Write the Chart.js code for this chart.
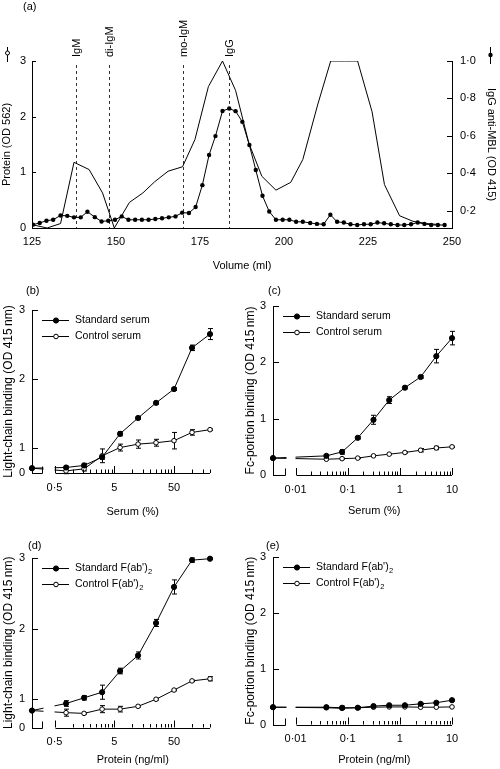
<!DOCTYPE html>
<html>
<head>
<meta charset="utf-8">
<script src="https://cdn.jsdelivr.net/npm/chart.js@4.4.0/dist/chart.umd.min.js"></script>
<style>
  html, body { margin: 0; padding: 0; background: #fff; }
  body { width: 500px; height: 769px; position: relative; overflow: hidden; font-family: "Liberation Sans", Arial, sans-serif; }
  canvas { position: absolute; }
  .tag { position: absolute; font-size: 11px; line-height: 13px; }
</style>
</head>
<body>
<canvas id="chartA" width="500" height="290" style="left:0;top:0"></canvas>
<canvas id="chartB" width="240" height="240" style="left:0;top:290px"></canvas>
<canvas id="chartC" width="260" height="240" style="left:240px;top:290px"></canvas>
<canvas id="chartD" width="240" height="239" style="left:0;top:530px"></canvas>
<canvas id="chartE" width="260" height="239" style="left:240px;top:530px"></canvas>
<div class="tag" style="left:23px;top:0px">(a)</div>
<div class="tag" style="left:26px;top:284px">(b)</div>
<div class="tag" style="left:268px;top:284px">(c)</div>
<div class="tag" style="left:28px;top:539px">(d)</div>
<div class="tag" style="left:266px;top:539px">(e)</div>
<script>
// ---------- data ----------
// (a) gel filtration of serum
const volProtein = [125, 129.5, 133.5, 137.5, 142, 146, 149.5, 154, 158, 161.5, 165.5, 169.8, 173.5, 177.5, 181.7, 185.6,
  189.5, 193.4, 197.6, 202, 205.6, 210, 213.9, 218, 221.9, 226.2, 229.9, 234.4, 238.4, 242.5, 246.5];
const protein = [0.06, 0.0, 0.08, 1.18, 1.05, 0.63, 0.0, 0.46, 0.63, 0.83, 1.02, 1.1, 1.59, 2.54, 3.0, 2.47,
  1.53, 0.93, 0.68, 0.82, 1.23, 2.21, 3.0, 3.0, 3.0, 2.09, 0.78, 0.22, 0.12, 0.08, 0.06];

const volFraction = [125.3, 127.3, 129.3, 131.3, 133.5, 135.5, 137.5, 139.5, 141.5, 143.7, 145.7, 147.7, 149.7, 151.7,
  153.7, 155.7, 157.7, 159.7, 161.7, 163.7, 165.7, 167.7, 169.7, 171.7, 173.7, 175.7, 177.7, 179.6, 181.7, 183.7,
  185.6, 187.6, 189.7, 191.6, 193.6, 195.6, 197.6, 199.6, 201.6, 203.6, 205.6, 207.8, 209.8, 211.8, 213.8, 215.8,
  217.8, 219.8, 221.8, 223.8, 225.8, 227.8, 229.8, 231.8, 233.8, 235.8, 237.8, 239.8, 241.8, 243.8, 245.8, 247.8];
const antiMBL = [0.126, 0.135, 0.147, 0.152, 0.175, 0.173, 0.165, 0.165, 0.195, 0.166, 0.143, 0.147, 0.152, 0.17,
  0.152, 0.152, 0.152, 0.152, 0.156, 0.16, 0.165, 0.17, 0.19, 0.188, 0.22, 0.337, 0.498, 0.599, 0.733, 0.746,
  0.732, 0.675, 0.551, 0.418, 0.28, 0.196, 0.152, 0.152, 0.152, 0.141, 0.141, 0.135, 0.13, 0.128, 0.179, 0.141,
  0.137, 0.128, 0.124, 0.128, 0.128, 0.137, 0.133, 0.128, 0.124, 0.124, 0.128, 0.137, 0.13, 0.124, 0.124, 0.124];

const fractionAt = [138, 147.8, 169.8, 183.5];
const fractionNames = ['IgM', 'di-IgM', 'mo-IgM', 'IgG'];
const volTicks = [125, 150, 175, 200, 225, 250];
const proteinTicks = [0, 1, 2, 3];
const mblTicks = [0.2, 0.4, 0.6, 0.8, 1.0];

// (b)/(c) serum dilutions
const serumPct = [0.78, 1.56, 3.13, 6.25, 12.5, 25, 50, 100, 200];
const lightStd = [0.71, 0.74, 0.86, 1.2, 1.43, 1.65, 1.85, 2.45, 2.65];
const lightStdErr = [0.02, 0.03, 0.03, 0.03, 0.02, 0.02, 0.02, 0.04, 0.08];
const lightCtl = [0.66, 0.69, 0.88, 1.0, 1.05, 1.07, 1.1, 1.22, 1.26];
const lightCtlErr = [0.04, 0.03, 0.1, 0.05, 0.06, 0.05, 0.12, 0.04, 0.01];
const lightBlank = 0.7;

const serumPctFc = [0.039, 0.078, 0.156, 0.3125, 0.625, 1.25, 2.5, 5, 10];
const fcStd = [0.34, 0.41, 0.66, 0.98, 1.33, 1.55, 1.74, 2.11, 2.43];
const fcStdErr = [0.02, 0.04, 0.02, 0.08, 0.06, 0.02, 0.02, 0.12, 0.12];
const fcCtl = [0.28, 0.29, 0.3, 0.34, 0.37, 0.4, 0.44, 0.48, 0.5];
const fcCtlErr = [0.01, 0.01, 0.01, 0.01, 0.01, 0.01, 0.03, 0.03, 0.01];
const fcBlank = 0.3;

// (d)/(e) F(ab')2 protein
const protNg = [0.78, 1.56, 3.13, 6.25, 12.5, 25, 50, 100, 200];
const fabLightStd = [0.94, 1.02, 1.1, 1.4, 1.62, 2.08, 2.59, 2.97, 2.99];
const fabLightStdErr = [0.04, 0.03, 0.1, 0.04, 0.05, 0.05, 0.1, 0.03, 0.01];
const fabLightCtl = [0.81, 0.8, 0.86, 0.86, 0.9, 1.0, 1.13, 1.26, 1.29];
const fabLightCtlErr = [0.05, 0.01, 0.05, 0.04, 0.01, 0.01, 0.01, 0.01, 0.03];
const fabLightBlank = 0.84;

const protNgFc = [0.039, 0.078, 0.156, 0.3125, 0.625, 1.25, 2.5, 5, 10];
const fabFcStd = [0.31, 0.3, 0.3, 0.33, 0.345, 0.345, 0.37, 0.39, 0.435];
const fabFcStdErr = [0.01, 0.03, 0.02, 0.02, 0.01, 0.01, 0.01, 0.01, 0.01];
const fabFcCtl = [0.3, 0.29, 0.3, 0.31, 0.315, 0.315, 0.31, 0.31, 0.315];
const fabFcBlank = 0.31;

// log axis ticks (labelled ones are major)
const ticksHalfDecade = [0.5, 1, 1.5, 2, 2.5, 3, 3.5, 4, 4.5, 5, 10, 15, 20, 25, 30, 35, 40, 45, 50, 100, 150, 200];
const labelsHalfDecade = { 0.5: '0·5', 5: '5', 50: '50' };
const ticksDecade = [0.01, 0.02, 0.03, 0.04, 0.05, 0.06, 0.07, 0.08, 0.09, 0.1, 0.2, 0.3, 0.4, 0.5, 0.6, 0.7, 0.8, 0.9,
  1, 2, 3, 4, 5, 6, 7, 8, 9, 10];
const labelsDecade = { 0.01: '0·01', 0.1: '0·1', 1: '1', 10: '10' };

// ---------- helpers ----------
Chart.defaults.font.family = '"Liberation Sans", Arial, sans-serif';
Chart.defaults.color = '#000';
Chart.defaults.animation = false;
Chart.defaults.events = [];
Chart.defaults.plugins.legend.display = false;
Chart.defaults.plugins.tooltip.enabled = false;

const FONT = '"Liberation Sans", Arial, sans-serif';

// tick marks drawn inside the plot
const inTicks = {
  id: 'inTicks',
  afterDraw(chart, args, opts) {
    const ctx = chart.ctx;
    ctx.save();
    ctx.strokeStyle = '#000';
    ctx.lineWidth = 1;
    Object.values(chart.scales).forEach(sc => {
      const len = opts[sc.id];
      if (!len) return;
      sc.ticks.forEach(t => {
        if (!sc.isHorizontal() && t.value === sc.min) return;
        const p = Math.round(sc.getPixelForValue(t.value)) + 0.5;
        const l = t.major ? len[0] : len[1];
        ctx.beginPath();
        if (sc.isHorizontal()) { ctx.moveTo(p, sc.top); ctx.lineTo(p, sc.top - l); }
        else if (sc.position === 'left') { ctx.moveTo(sc.right, p); ctx.lineTo(sc.right + l, p); }
        else { ctx.moveTo(sc.left, p); ctx.lineTo(sc.left - l, p); }
        ctx.stroke();
      });
    });
    ctx.restore();
  }
};

const errorBars = {
  id: 'errorBars',
  beforeDatasetsDraw(chart) {
    const ctx = chart.ctx;
    ctx.save();
    ctx.strokeStyle = '#000';
    ctx.lineWidth = 1;
    chart.data.datasets.forEach((ds, i) => {
      if (!ds.errors) return;
      const meta = chart.getDatasetMeta(i);
      const ys = chart.scales[meta.yAxisID];
      ds.data.forEach((pt, j) => {
        const e = ds.errors[j];
        if (!e) return;
        const px = Math.round(meta.data[j].x) + 0.5;
        const y1 = ys.getPixelForValue(pt.y + e);
        const y2 = ys.getPixelForValue(pt.y - e);
        ctx.beginPath();
        ctx.moveTo(px, y1); ctx.lineTo(px, y2);
        ctx.moveTo(px - 2.5, y1); ctx.lineTo(px + 2.5, y1);
        ctx.moveTo(px - 2.5, y2); ctx.lineTo(px + 2.5, y2);
        ctx.stroke();
      });
    });
    ctx.restore();
  }
};

// broken x axis between the blank point and the dilution series
const axisBreak = {
  id: 'axisBreak',
  afterDatasetsDraw(chart, args, opts) {
    const { ctx, chartArea } = chart;
    const x = chart.scales.x;
    const pA = Math.round(x.getPixelForValue(opts.breakAt)) + 0.5;
    const pB = Math.round(x.getPixelForValue(opts.resumeAt)) + 0.5;
    const yB = Math.round(chartArea.bottom) + 0.5;
    ctx.save();
    ctx.fillStyle = '#fff';
    ctx.fillRect(pA + 1, chartArea.bottom - 40, pB - pA - 2, 42);
    ctx.strokeStyle = '#000';
    ctx.lineWidth = 1;
    ctx.beginPath();
    ctx.moveTo(chartArea.left, yB); ctx.lineTo(pA, yB); ctx.lineTo(pA, yB - 7);
    ctx.moveTo(pB, yB); ctx.lineTo(chartArea.right, yB);
    ctx.stroke();
    ctx.fillStyle = '#000';
    ctx.font = '11px ' + FONT;
    ctx.textAlign = 'center';
    ctx.textBaseline = 'middle';
    ctx.fillText(opts.title, (pB + chartArea.right) / 2, opts.titleY);
    ctx.restore();
  }
};

// line + marker legend inside the plot
const markerLegend = {
  id: 'markerLegend',
  afterDraw(chart, args, opts) {
    const { ctx, chartArea } = chart;
    ctx.save();
    chart.data.datasets.forEach((ds, i) => {
      const y = Math.round(chartArea.top + opts.top + i * opts.gap) + 0.5;
      const x0 = chartArea.left + opts.left;
      ctx.strokeStyle = '#000';
      ctx.lineWidth = 1;
      ctx.beginPath(); ctx.moveTo(x0, y); ctx.lineTo(x0 + 27, y); ctx.stroke();
      ctx.beginPath(); ctx.arc(x0 + 14, y, ds.pointRadius, 0, Math.PI * 2);
      ctx.fillStyle = ds.pointBackgroundColor; ctx.fill(); ctx.stroke();
      ctx.fillStyle = '#000';
      ctx.font = '10.5px ' + FONT;
      ctx.textBaseline = 'middle';
      ctx.textAlign = 'left';
      let text = ds.label;
      const sub = text.endsWith('₂');
      if (sub) text = text.slice(0, -1);
      ctx.fillText(text, x0 + 33, y);
      if (sub) {
        const w = ctx.measureText(text).width;
        ctx.font = '7.5px ' + FONT;
        ctx.fillText('2', x0 + 33 + w + 0.5, y + 3.5);
      }
    });
    ctx.restore();
  }
};

// fraction markers and axis-title symbols for panel (a)
const fractionMarks = {
  id: 'fractionMarks',
  beforeDatasetsDraw(chart, args, opts) {
    const { ctx, chartArea } = chart;
    const x = chart.scales.x;
    ctx.save();
    opts.at.forEach((v, i) => {
      const px = Math.round(x.getPixelForValue(v)) + 0.5;
      ctx.strokeStyle = '#333';
      ctx.lineWidth = 1;
      ctx.setLineDash([3, 3]);
      ctx.beginPath(); ctx.moveTo(px, chartArea.top + 4); ctx.lineTo(px, chartArea.bottom); ctx.stroke();
      ctx.setLineDash([]);
      ctx.translate(px, chartArea.top - 4);
      ctx.rotate(-Math.PI / 2);
      ctx.fillStyle = '#000';
      ctx.font = '11px ' + FONT;
      ctx.textAlign = 'left';
      ctx.textBaseline = 'middle';
      ctx.fillText(opts.names[i], 0, 0);
      ctx.setTransform(1, 0, 0, 1, 0, 0);
    });
    ctx.restore();
  },
  afterDraw(chart) {
    const ctx = chart.ctx;
    ctx.save();
    ctx.strokeStyle = '#000';
    ctx.lineWidth = 1;
    // open circle symbol above left title
    ctx.beginPath(); ctx.moveTo(7.5, 47); ctx.lineTo(7.5, 62); ctx.stroke();
    ctx.beginPath(); ctx.arc(7.5, 53, 2, 0, Math.PI * 2); ctx.fillStyle = '#fff'; ctx.fill(); ctx.stroke();
    // filled circle symbol above right title
    ctx.beginPath(); ctx.moveTo(490.5, 47); ctx.lineTo(490.5, 64); ctx.stroke();
    ctx.beginPath(); ctx.arc(490.5, 55, 2.2, 0, Math.PI * 2); ctx.fillStyle = '#000'; ctx.fill();
    ctx.restore();
  }
};

// ---------- panel (a) ----------
new Chart(document.getElementById('chartA'), {
  type: 'line',
  data: {
    datasets: [{
      label: 'Protein (OD 562)',
      data: volProtein.map((v, i) => ({ x: v, y: protein[i] })),
      yAxisID: 'yL',
      borderColor: '#000',
      borderWidth: 1,
      pointRadius: 0
    }, {
      label: 'IgG anti-MBL (OD 415)',
      data: volFraction.map((v, i) => ({ x: v, y: antiMBL[i] })),
      yAxisID: 'yR',
      borderColor: '#000',
      borderWidth: 1,
      pointRadius: 2.2,
      pointBorderWidth: 0,
      pointBackgroundColor: '#000'
    }]
  },
  plugins: [fractionMarks, inTicks],
  options: {
    responsive: false,
    layout: { padding: { top: 61, left: 0, right: 0, bottom: 0 } },
    scales: {
      x: {
        type: 'linear', min: 125, max: 250,
        afterBuildTicks: s => { s.ticks = volTicks.map(v => ({ value: v })); },
        afterFit: s => { s.height = 62; },
        grid: { display: false, drawTicks: false },
        border: { color: '#000', width: 1 },
        ticks: { padding: 7, font: { size: 11 }, maxRotation: 0, autoSkip: false },
        title: { display: true, text: 'Volume (ml)', font: { size: 11 }, padding: { top: 0, bottom: 17 } }
      },
      yL: {
        position: 'left', min: 0, max: 3,
        afterBuildTicks: s => { s.ticks = proteinTicks.map(v => ({ value: v })); },
        afterFit: s => { s.width = 32; },
        grid: { display: false, drawTicks: false },
        border: { color: '#000', width: 1 },
        ticks: { padding: 6, font: { size: 11 } },
        title: { display: true, text: 'Protein (OD 562)', font: { size: 11 }, padding: { top: 0.5, bottom: 0 } }
      },
      yR: {
        position: 'right', min: 0.108, max: 1.0,
        afterBuildTicks: s => { s.ticks = mblTicks.map(v => ({ value: v })); },
        afterFit: s => { s.width = 48; },
        grid: { display: false, drawTicks: false },
        border: { color: '#000', width: 1 },
        ticks: { padding: 8, font: { size: 11 }, callback: v => v.toFixed(1).replace('.', '·') },
        title: { display: true, text: 'IgG anti-MBL (OD 415)', font: { size: 11 }, padding: { top: 2.5, bottom: 0 } }
      }
    },
    plugins: {
      fractionMarks: { at: fractionAt, names: fractionNames },
      inTicks: { yL: [4, 4], yR: [5, 5] }
    }
  }
});

// ---------- panels (b)-(e) ----------
function dosePanel(id, o) {
  const series = (label, blank, xs, ys, errs, filled) => ({
    label: label,
    data: [{ x: o.xMin, y: blank }].concat(xs.map((v, i) => ({ x: v, y: ys[i] }))),
    errors: errs ? [0].concat(errs) : null,
    borderColor: '#000',
    borderWidth: 1,
    pointRadius: filled ? 2.6 : 2.3,
    pointBorderWidth: 1,
    pointBorderColor: '#000',
    pointBackgroundColor: filled ? '#000' : '#fff',
    clip: false
  });
  return new Chart(document.getElementById(id), {
    type: 'line',
    data: {
      datasets: [
        series(o.stdLabel, o.blank, o.xs, o.std, o.stdErr, true),
        series(o.ctlLabel, o.blank, o.xs, o.ctl, o.ctlErr, false)
      ]
    },
    plugins: [errorBars, axisBreak, inTicks, markerLegend],
    options: {
      responsive: false,
      layout: { padding: { top: o.top, left: 0, right: o.right, bottom: 0 } },
      scales: {
        x: {
          type: 'logarithmic', min: o.xMin, max: o.xMax,
          afterBuildTicks: s => { s.ticks = o.xTicks.map(v => ({ value: v, major: v in o.xLabels })); },
          afterFit: s => { s.height = o.xHeight; },
          grid: { display: false, drawTicks: false },
          border: { display: false },
          ticks: { padding: 8, font: { size: 11 }, maxRotation: 0, autoSkip: false,
            callback: v => o.xLabels[v] || '' }
        },
        y: {
          position: 'left', min: o.yMin, max: 3,
          afterBuildTicks: s => { s.ticks = [o.yMin, 1, 2, 3].map(v => ({ value: v })); },
          afterFit: s => { s.width = o.yWidth; },
          grid: { display: false, drawTicks: false },
          border: { color: '#000', width: 1 },
          ticks: { padding: 7, font: { size: 11 }, callback: v => (v === o.yMin ? '0' : String(v)) },
          title: { display: true, text: o.yTitle, font: { size: 12 }, padding: { top: o.yTitlePad, bottom: 0 } }
        }
      },
      plugins: {
        inTicks: { x: [7, 3.5], y: [6, 6] },
        axisBreak: { breakAt: o.breakAt, resumeAt: o.resumeAt, title: o.xTitle, titleY: o.titleY },
        markerLegend: { left: 10, top: 9.5, gap: 16.5 }
      }
    }
  });
}

dosePanel('chartB', {
  xs: serumPct, std: lightStd, stdErr: lightStdErr, ctl: lightCtl, ctlErr: lightCtlErr, blank: lightBlank,
  stdLabel: 'Standard serum', ctlLabel: 'Control serum',
  xMin: 0.21, xMax: 200, xTicks: ticksHalfDecade, xLabels: labelsHalfDecade, breakAt: 0.31, resumeAt: 0.5,
  yMin: 0.63, top: 20, right: 30, xHeight: 57, yWidth: 32, yTitlePad: 1,
  yTitle: 'Light-chain binding (OD 415\u2009nm)', xTitle: 'Serum (%)', titleY: 221.5
});

dosePanel('chartC', {
  xs: serumPctFc, std: fcStd, stdErr: fcStdErr, ctl: fcCtl, ctlErr: fcCtlErr, blank: fcBlank,
  stdLabel: 'Standard serum', ctlLabel: 'Control serum',
  xMin: 0.0037, xMax: 10, xTicks: ticksDecade, xLabels: labelsDecade, breakAt: 0.0062, resumeAt: 0.01,
  yMin: 0, top: 16, right: 48, xHeight: 55, yWidth: 33, yTitlePad: 3,
  yTitle: 'Fc-portion binding (OD 415\u2009nm)', xTitle: 'Serum (%)', titleY: 220.5
});

dosePanel('chartD', {
  xs: protNg, std: fabLightStd, stdErr: fabLightStdErr, ctl: fabLightCtl, ctlErr: fabLightCtlErr, blank: fabLightBlank,
  stdLabel: "Standard F(ab')₂", ctlLabel: "Control F(ab')₂",
  xMin: 0.21, xMax: 200, xTicks: ticksHalfDecade, xLabels: labelsHalfDecade, breakAt: 0.31, resumeAt: 0.5,
  yMin: 0.6, top: 28, right: 30, xHeight: 41.5, yWidth: 32, yTitlePad: 1,
  yTitle: 'Light-chain binding (OD 415\u2009nm)', xTitle: 'Protein (ng/ml)', titleY: 229.5
});

dosePanel('chartE', {
  xs: protNgFc, std: fabFcStd, stdErr: fabFcStdErr, ctl: fabFcCtl, ctlErr: null, blank: fabFcBlank,
  stdLabel: "Standard F(ab')₂", ctlLabel: "Control F(ab')₂",
  xMin: 0.0037, xMax: 10, xTicks: ticksDecade, xLabels: labelsDecade, breakAt: 0.0062, resumeAt: 0.01,
  yMin: 0, top: 27, right: 48, xHeight: 44.5, yWidth: 33, yTitlePad: 3,
  yTitle: 'Fc-portion binding (OD 415\u2009nm)', xTitle: 'Protein (ng/ml)', titleY: 229.5
});
</script>
</body>
</html>
